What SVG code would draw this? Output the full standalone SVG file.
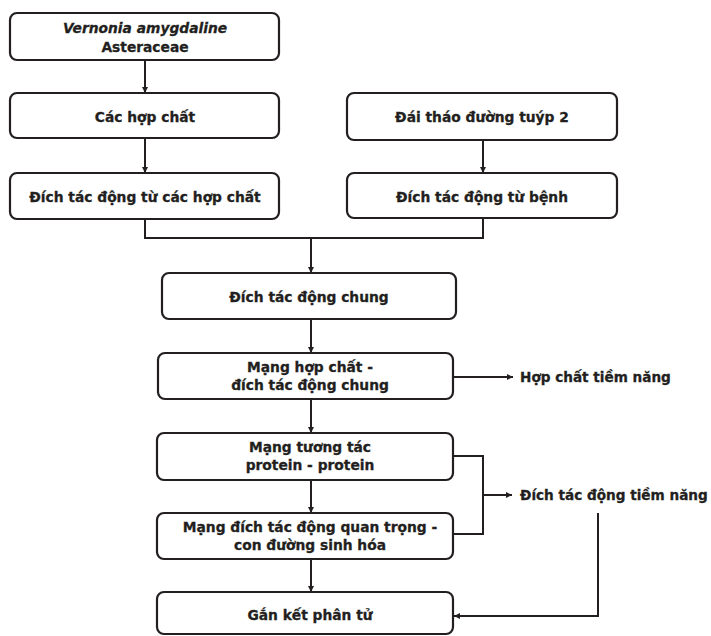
<svg xmlns="http://www.w3.org/2000/svg" width="711" height="636" viewBox="0 0 711 636">
<style>
.box{fill:#fff;stroke:#231f20;stroke-width:2.2}
.t{font-family:"DejaVu Sans",Verdana,sans-serif;font-weight:bold;font-size:13.8px;fill:#231f20;stroke:#231f20;stroke-width:0.3;text-anchor:middle}
.ts{font-family:"DejaVu Sans",Verdana,sans-serif;font-weight:bold;font-size:13.6px;fill:#231f20;stroke:#231f20;stroke-width:0.3}
.c{fill:none;stroke:#231f20;stroke-width:2}
</style>
<defs>
<marker id="ah" viewBox="0 0 6 6" refX="6" refY="3" markerWidth="3" markerHeight="3" orient="auto" markerUnits="strokeWidth">
<path d="M0,0 L6,3 L0,6 z" fill="#231f20"/>
</marker>
</defs>
<rect width="711" height="636" fill="#fff"/>
<g id="connectors">
<path class="c" d="M145,60 V93" marker-end="url(#ah)"/>
<path class="c" d="M145,138 V173" marker-end="url(#ah)"/>
<path class="c" d="M483,140 V173" marker-end="url(#ah)"/>
<path class="c" d="M145,219 V238 H483 V218"/>
<path class="c" d="M311,238 V273" marker-end="url(#ah)"/>
<path class="c" d="M311,319 V353" marker-end="url(#ah)"/>
<path class="c" d="M453,377 H513" marker-end="url(#ah)"/>
<path class="c" d="M311,399 V433" marker-end="url(#ah)"/>
<path class="c" d="M311,480 V513" marker-end="url(#ah)"/>
<path class="c" d="M311,559 V592" marker-end="url(#ah)"/>
<path class="c" d="M453,456 H483 V534 H453"/>
<path class="c" d="M483,495 H512" marker-end="url(#ah)"/>
<path class="c" d="M598,513 V616 H454" marker-end="url(#ah)"/>
</g>
<g id="n1"><rect class="box" x="10" y="13" width="269" height="47" rx="7"/>
<text class="t" x="145" y="33" font-style="italic">Vernonia amygdaline</text>
<text class="t" x="145" y="52">Asteraceae</text></g>
<g id="n2"><rect class="box" x="10" y="93" width="269" height="45" rx="7"/>
<text class="t" x="145" y="122">Các hợp chất</text></g>
<g id="n3"><rect class="box" x="10" y="173" width="269" height="46" rx="7"/>
<text class="t" x="145" y="202">Đích tác động từ các hợp chất</text></g>
<g id="n4"><rect class="box" x="347" y="93" width="270" height="47" rx="7"/>
<text class="t" x="482" y="122">Đái tháo đường tuýp 2</text></g>
<g id="n5"><rect class="box" x="347" y="173" width="270" height="45" rx="7"/>
<text class="t" x="482" y="202">Đích tác động từ bệnh</text></g>
<g id="n6"><rect class="box" x="162" y="273" width="294" height="46" rx="7"/>
<text class="t" x="309" y="302">Đích tác động chung</text></g>
<g id="n7"><rect class="box" x="158" y="353" width="295" height="46" rx="7"/>
<text class="t" x="310" y="372">Mạng hợp chất -</text>
<text class="t" x="310" y="390">đích tác động chung</text></g>
<g id="n8"><rect class="box" x="157" y="433" width="296" height="47" rx="7"/>
<text class="t" x="310" y="452">Mạng tương tác</text>
<text class="t" x="310" y="470">protein - protein</text></g>
<g id="n9"><rect class="box" x="157" y="513" width="296" height="46" rx="7"/>
<text class="t" x="310" y="532">Mạng đích tác động quan trọng -</text>
<text class="t" x="310" y="550">con đường sinh hóa</text></g>
<g id="n10"><rect class="box" x="157" y="592" width="296" height="42" rx="7"/>
<text class="t" x="310" y="620">Gắn kết phân tử</text></g>
<g id="n11"><text class="ts" x="520" y="382">Hợp chất tiềm năng</text></g>
<g id="n12"><text class="ts" x="520" y="500">Đích tác động tiềm năng</text></g>
</svg>
